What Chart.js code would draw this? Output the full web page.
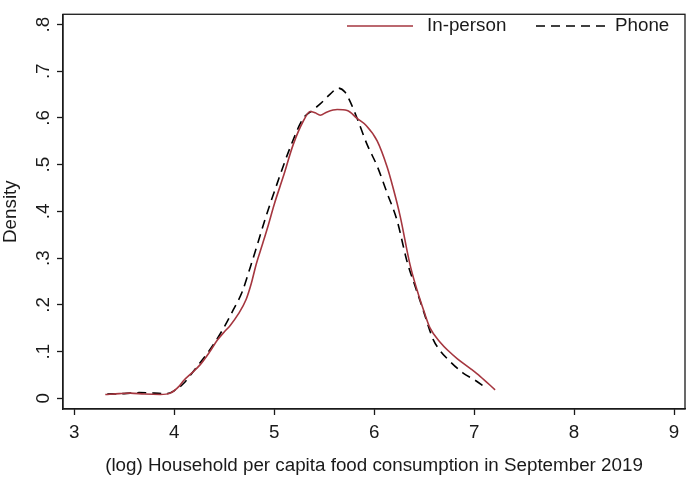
<!DOCTYPE html>
<html>
<head>
<meta charset="utf-8">
<script src="https://cdn.jsdelivr.net/npm/chart.js@4"></script>
<style>
  html, body { margin: 0; padding: 0; background: #fff; }
  #wrap { width: 688px; height: 481px; }
</style>
</head>
<body>
<div id="wrap"><canvas id="mycanvas" width="688" height="481"></canvas></div>
<script>
// In-person kernel density
var xInPerson = [3.31, 3.45, 3.56, 3.70, 3.86, 3.96, 4.05, 4.09, 4.18, 4.26, 4.35, 4.43, 4.50, 4.56, 4.64, 4.72, 4.77, 4.82, 4.88, 4.94, 5.00, 5.09, 5.19, 5.29, 5.36, 5.41, 5.46, 5.53, 5.63, 5.73, 5.83, 5.92, 6.03, 6.13, 6.19, 6.26, 6.36, 6.43, 6.50, 6.56, 6.66, 6.75, 6.83, 6.96, 7.06, 7.21];
var yInPerson = [0.008, 0.010, 0.011, 0.009, 0.008, 0.011, 0.026, 0.037, 0.055, 0.072, 0.098, 0.124, 0.142, 0.156, 0.180, 0.212, 0.245, 0.287, 0.328, 0.370, 0.415, 0.474, 0.543, 0.593, 0.614, 0.611, 0.606, 0.613, 0.618, 0.616, 0.599, 0.584, 0.551, 0.495, 0.450, 0.390, 0.285, 0.231, 0.185, 0.150, 0.120, 0.100, 0.085, 0.064, 0.047, 0.018];

// Phone kernel density
var xPhone = [3.33, 3.50, 3.65, 3.80, 3.93, 4.00, 4.09, 4.20, 4.36, 4.48, 4.59, 4.68, 4.76, 4.83, 4.91, 5.03, 5.16, 5.29, 5.38, 5.46, 5.56, 5.64, 5.71, 5.76, 5.83, 5.93, 6.03, 6.13, 6.23, 6.33, 6.41, 6.49, 6.59, 6.66, 6.73, 6.89, 7.00, 7.12];
var yPhone = [0.009, 0.010, 0.012, 0.011, 0.010, 0.016, 0.031, 0.060, 0.105, 0.145, 0.189, 0.228, 0.280, 0.328, 0.384, 0.460, 0.537, 0.599, 0.616, 0.630, 0.651, 0.664, 0.655, 0.635, 0.599, 0.543, 0.497, 0.439, 0.380, 0.292, 0.240, 0.189, 0.126, 0.102, 0.085, 0.054, 0.040, 0.022];

var xTicks = [3, 4, 5, 6, 7, 8, 9];
var yTicks = [0, 0.1, 0.2, 0.3, 0.4, 0.5, 0.6, 0.7, 0.8];
var yTickLabels = ['0', '.1', '.2', '.3', '.4', '.5', '.6', '.7', '.8'];
var seriesNames = ['In-person', 'Phone'];

var FONT = '"Liberation Sans", Arial, sans-serif';
var FSIZE = 18.8;
var RED = '#a5363f';
var INK = '#1a1a1a';

function toPoints(xs, ys) {
  var pts = [];
  for (var i = 0; i < xs.length; i++) {
    pts.push({ x: xs[i], y: ys[i] });
  }
  return pts;
}

// frame, rotated y labels, y title and in-plot legend
var stataBits = {
  id: 'stataBits',
  afterDraw: function (chart) {
    var ctx = chart.ctx;
    var a = chart.chartArea;
    var ys = chart.scales.y;
    ctx.save();
    ctx.strokeStyle = INK;
    ctx.lineWidth = 1.3;
    ctx.strokeRect(a.left, a.top, a.right - a.left, a.bottom - a.top);

    ctx.fillStyle = INK;
    ctx.font = FSIZE + 'px ' + FONT;
    ctx.textAlign = 'center';
    ctx.textBaseline = 'middle';
    for (var i = 0; i < yTicks.length; i++) {
      var py = ys.getPixelForValue(yTicks[i]);
      ctx.save();
      ctx.translate(44, py);
      ctx.rotate(-Math.PI / 2);
      ctx.fillText(yTickLabels[i], 0, 0);
      ctx.restore();
    }
    ctx.save();
    ctx.translate(11, (a.top + a.bottom) / 2);
    ctx.rotate(-Math.PI / 2);
    ctx.fillText('Density', 0, 0);
    ctx.restore();

    // legend
    var ly = 26;
    ctx.lineWidth = 1.6;
    ctx.strokeStyle = RED;
    ctx.beginPath();
    ctx.moveTo(347, ly);
    ctx.lineTo(413, ly);
    ctx.stroke();
    ctx.strokeStyle = '#000';
    ctx.setLineDash([9, 6]);
    ctx.beginPath();
    ctx.moveTo(536, ly);
    ctx.lineTo(606, ly);
    ctx.stroke();
    ctx.setLineDash([]);
    ctx.textAlign = 'left';
    ctx.fillText(seriesNames[0], 427, ly);
    ctx.fillText(seriesNames[1], 615, ly);
    ctx.restore();
  }
};

var ctx = document.getElementById('mycanvas').getContext('2d');

var densityChart = new Chart(ctx, {
  type: 'scatter',
  data: {
    datasets: [
      {
        label: seriesNames[0],
        data: toPoints(xInPerson, yInPerson),
        showLine: true,
        borderColor: RED,
        borderWidth: 1.6,
        pointRadius: 0,
        tension: 0.4,
        cubicInterpolationMode: 'monotone'
      },
      {
        label: seriesNames[1],
        data: toPoints(xPhone, yPhone),
        showLine: true,
        borderColor: '#000',
        borderWidth: 1.6,
        borderDash: [9, 6],
        pointRadius: 0,
        tension: 0.4,
        cubicInterpolationMode: 'monotone'
      }
    ]
  },
  options: {
    responsive: false,
    animation: false,
    devicePixelRatio: 1,
    layout: { padding: { top: 3, right: 3, left: 0, bottom: 0 } },
    plugins: {
      legend: { display: false },
      tooltip: { enabled: false }
    },
    scales: {
      x: {
        type: 'linear',
        min: 2.887,
        max: 9.11,
        afterBuildTicks: function (scale) {
          scale.ticks = xTicks.map(function (v) { return { value: v }; });
        },
        afterFit: function (scale) { scale.height = 72; },
        grid: {
          drawOnChartArea: false,
          drawTicks: true,
          tickLength: 6,
          tickColor: INK,
          tickWidth: 1.3
        },
        border: { display: true, color: INK, width: 1.3 },
        ticks: {
          color: INK,
          padding: 7,
          maxRotation: 0,
          font: { family: FONT, size: FSIZE }
        },
        title: {
          display: true,
          text: '(log) Household per capita food consumption in September 2019',
          color: INK,
          font: { family: FONT, size: FSIZE },
          padding: { top: 13 }
        }
      },
      y: {
        type: 'linear',
        min: -0.023,
        max: 0.822,
        afterBuildTicks: function (scale) {
          scale.ticks = yTicks.map(function (v) { return { value: v }; });
        },
        afterFit: function (scale) { scale.width = 63; },
        grid: {
          drawOnChartArea: false,
          drawTicks: true,
          tickLength: 6,
          tickColor: INK,
          tickWidth: 1.3
        },
        border: { display: true, color: INK, width: 1.3 },
        ticks: {
          color: 'rgba(0,0,0,0)',
          font: { family: FONT, size: FSIZE }
        }
      }
    }
  },
  plugins: [stataBits]
});
</script>
</body>
</html>
